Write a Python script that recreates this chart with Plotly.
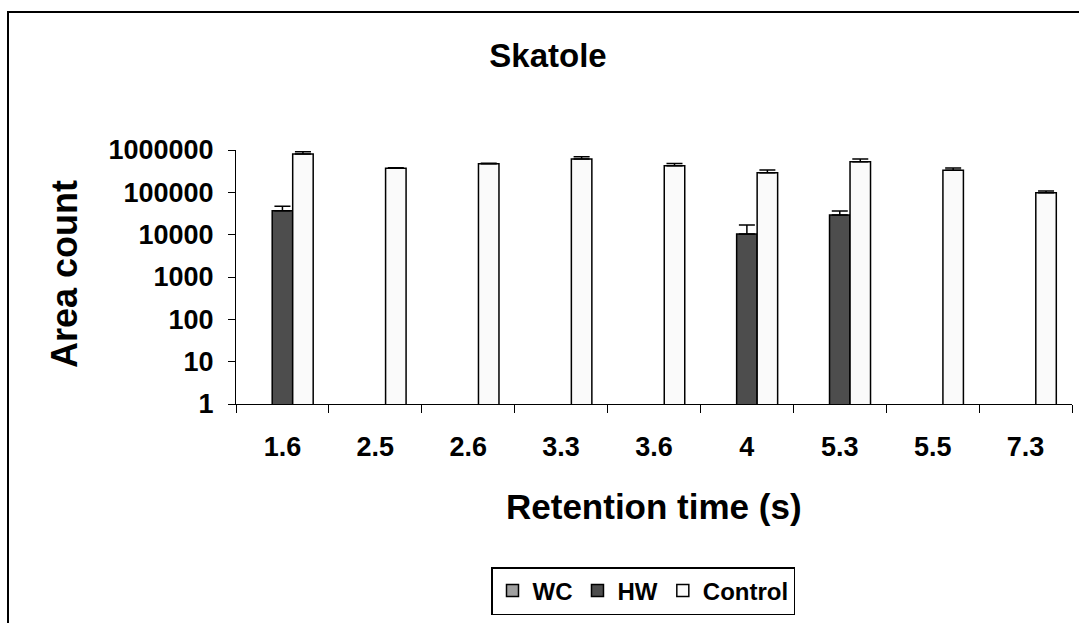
import plotly.graph_objects as go

categories = ["1.6", "2.5", "2.6", "3.3", "3.6", "4", "5.3", "5.5", "7.3"]
wc_values = [None, None, None, None, None, None, None, None, None]
hw_values = [36900, None, None, None, None, 10400, 29200, None, None]
hw_errors = [10000, 0, 0, 0, 0, 6500, 7000, 0, 0]
control_values = [805000, 370000, 475000, 614000, 427000, 292000, 531000, 332000, 98000]
control_errors = [107000, 13000, 10000, 80000, 50000, 45000, 83000, 44000, 10000]
y_tick_values = [1, 10, 100, 1000, 10000, 100000, 1000000]
y_tick_labels = ["1", "10", "100", "1000", "10000", "100000", "1000000"]

FONT = "Liberation Sans, Arial, sans-serif"
W, H = 1079, 623
L, R, T, B = 236, 1072, 150, 404


def px_x(px):
    return (px - L) / (R - L)


def px_y(py):
    return (B - py) / (B - T)


fig = go.Figure()
fig.add_trace(go.Bar(
    name="WC", x=categories, y=wc_values,
    marker=dict(color="#A0A0A0", line=dict(color="black", width=1.5)),
))
fig.add_trace(go.Bar(
    name="HW", x=categories, y=hw_values,
    marker=dict(color="#4D4D4D", line=dict(color="black", width=1.5)),
    error_y=dict(type="data", symmetric=False, array=hw_errors,
                 arrayminus=[0] * len(hw_errors), color="black",
                 thickness=1.5, width=8),
))
fig.add_trace(go.Bar(
    name="Control", x=categories, y=control_values,
    marker=dict(color="#FAFAFA", line=dict(color="black", width=1.5)),
    error_y=dict(type="data", symmetric=False, array=control_errors,
                 arrayminus=[0] * len(control_errors), color="black",
                 thickness=1.5, width=8),
))

fig.update_layout(
    width=W, height=H,
    margin=dict(l=L, r=W - R, t=T, b=H - B, pad=0),
    paper_bgcolor="white", plot_bgcolor="white",
    barmode="group", bargap=0.338, bargroupgap=0,
    font=dict(family=FONT, color="black"),
    title=dict(text="Skatole", x=548 / W, xref="container",
               xanchor="center", y=1 - 55 / H, yref="container", yanchor="middle",
               font=dict(family=FONT, size=33, weight="bold", color="black")),
    showlegend=True,
    legend=dict(orientation="h", x=px_x(643), xanchor="center",
                y=px_y(567), yanchor="top",
                bordercolor="black", borderwidth=1.5, bgcolor="white",
                font=dict(family=FONT, size=24, weight="bold", color="black"),
                itemwidth=30, traceorder="normal"),
)

fig.update_xaxes(
    type="category", showline=True, linecolor="black", linewidth=1,
    ticks="outside", ticklen=8, tickcolor="black", tickwidth=1,
    tickson="boundaries", showgrid=False, zeroline=False,
    tickfont=dict(family=FONT, size=27, weight="bold", color="black"),
    ticklabelstandoff=19,
)
fig.update_yaxes(
    type="log", range=[0, 6], showline=True, linecolor="black", linewidth=1,
    ticks="outside", ticklen=7, tickcolor="black", tickwidth=1,
    tickvals=y_tick_values, ticktext=y_tick_labels,
    showgrid=False, zeroline=False,
    tickfont=dict(family=FONT, size=27, weight="bold", color="black"),
    ticklabelstandoff=9,
)

# axis titles
fig.add_annotation(text="Area count", xref="paper", yref="paper",
                   x=px_x(64), y=px_y(274), xanchor="center", yanchor="middle",
                   textangle=-90, showarrow=False,
                   font=dict(family=FONT, size=36, weight="bold", color="black"))
fig.add_annotation(text="Retention time (s)", xref="paper", yref="paper",
                   x=px_x(654), y=px_y(506), xanchor="center", yanchor="middle",
                   showarrow=False,
                   font=dict(family=FONT, size=35, weight="bold", color="black"))

# outer chart border
fig.add_shape(type="rect", xref="paper", yref="paper",
              x0=px_x(8), x1=px_x(1095), y0=px_y(640), y1=px_y(12),
              line=dict(color="black", width=2), fillcolor="rgba(0,0,0,0)",
              layer="below")

fig.write_html("out.html")
